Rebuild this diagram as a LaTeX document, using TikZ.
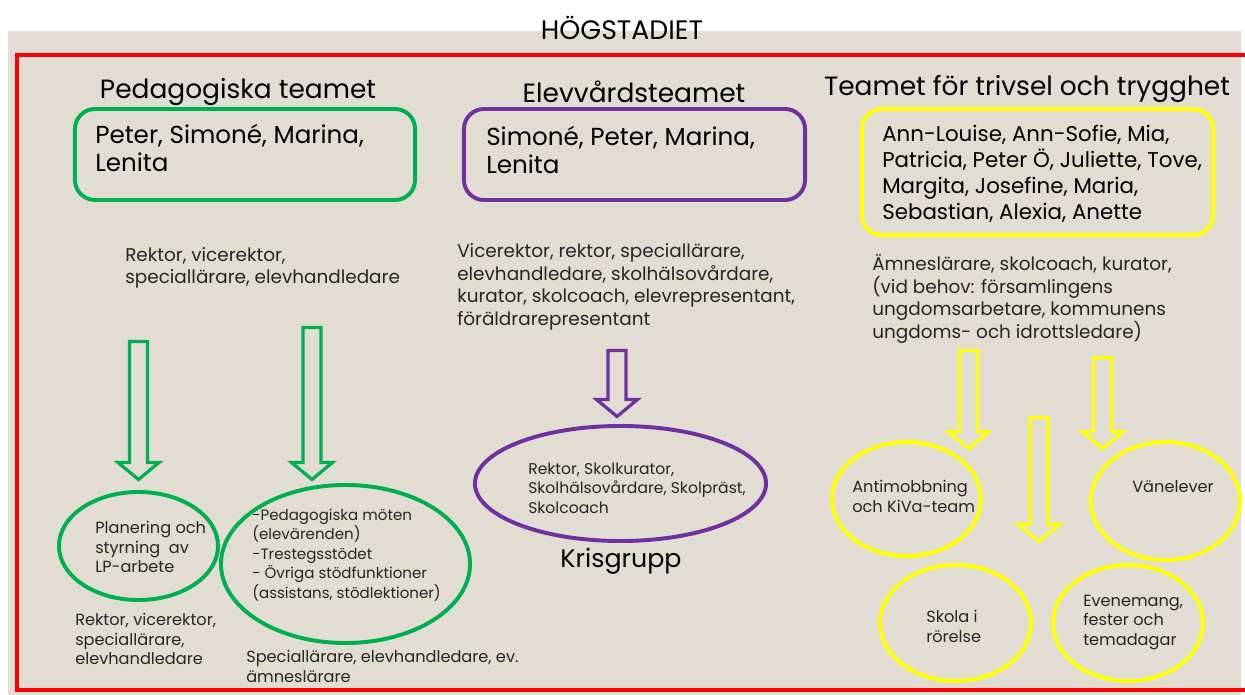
\documentclass[tikz,border=0pt]{standalone}
\usepackage{fontspec}
\setmainfont{Poppins}
\usetikzlibrary{calc,shapes.geometric}
\definecolor{paper}{HTML}{E2DDD3}
\definecolor{frame}{HTML}{FF0000}
\definecolor{ped}{HTML}{00B050}
\definecolor{elev}{HTML}{7030A0}
\definecolor{triv}{HTML}{FFFF00}
\definecolor{ink}{HTML}{262626}

% hollow block arrow pointing down: colour, top, tip
\newcommand{\blockdown}[3]{%
  \draw[#1,line width=2.3pt,miter limit=4]
    ($(#2)+(-9,0)$) -- ($(#2)+(9,0)$) -- ($(#3)+(9,-17)$) -- ($(#3)+(20.5,-17)$)
    -- (#3) -- ($(#3)+(-20.5,-17)$) -- ($(#3)+(-9,-17)$) -- cycle;}

\begin{document}
\begin{tikzpicture}[x=0.025cm,y=-0.025cm,
    title/.style={font=\fontsize{19}{22}\selectfont},
    head/.style={font=\fontsize{18.8}{21}\selectfont},
    names/.style={anchor=west,align=left,inner sep=0,font=\fontsize{17.5}{20.6}\selectfont},
    small/.style={anchor=west,align=left,inner sep=0,text=ink,font=\fontsize{13.1}{16.1}\selectfont},
    tiny/.style={anchor=west,align=left,inner sep=0,text=ink,font=\fontsize{11.5}{13.8}\selectfont},
    team/.style={draw=#1,line width=2.8pt,rounded corners=0.5cm},
    circ/.style={draw=#1,line width=2.8pt,ellipse,inner sep=0}]

  \useasboundingbox (0,0) rectangle (1245,695);
  \fill[white] (0,0) rectangle (1245,695);
  \fill[paper] (8,31) rectangle (1241,695);
  \draw[frame,line width=3.2pt] (17,55) rectangle (1255,690);

  \node[title] (hog) at (622,28) {HÖGSTADIET};

  % Pedagogiska teamet
  \node[head] (pedhead) at (238,92) {Pedagogiska teamet};
  \node[team=ped,minimum width=8.5cm,minimum height=2.275cm] (pedbox) at (245,154.5) {};
  \node[names] (pednames) at (95,148) {Peter, Simoné, Marina,\\Lenita};
  \node[small] (pedwho) at (125,268) {Rektor, vicerektor,\\speciallärare, elevhandledare};
  \node[circ=ped,minimum width=3.975cm,minimum height=2.7cm] (plan) at (138.5,546) {};
  \node[tiny] (plantext) at (95,547) {Planering och\\styrning\ \ av\\LP-arbete};
  \node[circ=ped,minimum width=6.225cm,minimum height=3.95cm] (mote) at (345.5,564) {};
  \node[tiny,font=\fontsize{10.7}{13.8}\selectfont] (motetext) at (252,555) {-Pedagogiska möten\\(elevärenden)\\-Trestegsstödet\\- Övriga stödfunktioner\\(assistans, stödlektioner)};
  \node[tiny] (planwho) at (75,639) {Rektor, vicerektor,\\speciallärare,\\elevhandledare};
  \node[tiny] (motewho) at (246,666.5) {Speciallärare, elevhandledare, ev.\\ämneslärare};
  \coordinate (g1top) at (138.5,341.5);
  \coordinate (g1tip) at (138.5,479.5);
  \coordinate (g2top) at (312,327.5);
  \coordinate (g2tip) at (312,479.5);
  \blockdown{ped}{g1top}{g1tip}
  \blockdown{ped}{g2top}{g2tip}

  % Elevvårdsteamet
  \node[head] (elevhead) at (634,92) {Elevvårdsteamet};
  \node[team=elev,minimum width=8.525cm,minimum height=2.275cm] (elevbox) at (634.5,154.5) {};
  \node[names] (elevnames) at (486,150) {Simoné, Peter, Marina,\\Lenita};
  \node[small] (elevwho) at (457,287) {Vicerektor, rektor, speciallärare,\\elevhandledare, skolhälsovårdare,\\kurator, skolcoach, elevrepresentant,\\föräldrarepresentant};
  \node[circ=elev,minimum width=7.275cm,minimum height=2.875cm] (kris) at (620.5,483.5) {};
  \node[tiny,font=\fontsize{11.1}{13.8}\selectfont] (kristext) at (528,488) {Rektor, Skolkurator,\\Skolhälsovårdare, Skolpräst,\\Skolcoach};
  \node[head,font=\fontsize{18}{21}\selectfont] (krisname) at (621,561) {Krisgrupp};
  \coordinate (ptop) at (617,350.5);
  \coordinate (ptip) at (617,416.5);
  \blockdown{elev}{ptop}{ptip}

  % Teamet för trivsel och trygghet
  \node[head] (trivhead) at (1027,89) {Teamet för trivsel och trygghet};
  \node[team=triv,minimum width=8.775cm,minimum height=3.15cm] (trivbox) at (1037.5,172) {};
  \node[names,font=\fontsize{15.2}{18.4}\selectfont] (trivnames) at (882,174) {Ann-Louise, Ann-Sofie, Mia,\\Patricia, Peter Ö, Juliette, Tove,\\Margita, Josefine, Maria,\\Sebastian, Alexia, Anette};
  \node[small] (trivwho) at (872,299) {Ämneslärare, skolcoach, kurator,\\(vid behov: församlingens\\ungdomsarbetare, kommunens\\ungdoms- och idrottsledare)};
  \node[circ=triv,minimum width=3.725cm,minimum height=2.85cm] (kiva) at (906.5,499) {};
  \node[tiny] (kivatext) at (852,496.5) {Antimobbning\\och KiVa-team};
  \node[circ=triv,minimum width=3.725cm,minimum height=2.95cm] (van) at (1165.5,501) {};
  \node[tiny] (vantext) at (1132,487) {Vänelever};
  \node[circ=triv,minimum width=3.775cm,minimum height=2.9cm] (rorelse) at (955.5,623) {};
  \node[tiny] (rorelsetext) at (926,626.5) {Skola i\\rörelse};
  \node[circ=triv,minimum width=3.75cm,minimum height=2.9cm] (fest) at (1128,623) {};
  \node[tiny] (festtext) at (1083,622.5) {Evenemang,\\fester och\\temadagar};
  \coordinate (y1top) at (968.5,350.5);
  \coordinate (y1tip) at (968.5,448.5);
  \coordinate (y2top) at (1039,417.5);
  \coordinate (y2tip) at (1039,541.5);
  \coordinate (y3top) at (1102.5,357.5);
  \coordinate (y3tip) at (1102.5,448.5);
  \blockdown{triv}{y1top}{y1tip}
  \blockdown{triv}{y2top}{y2tip}
  \blockdown{triv}{y3top}{y3tip}

\end{tikzpicture}
\end{document}
